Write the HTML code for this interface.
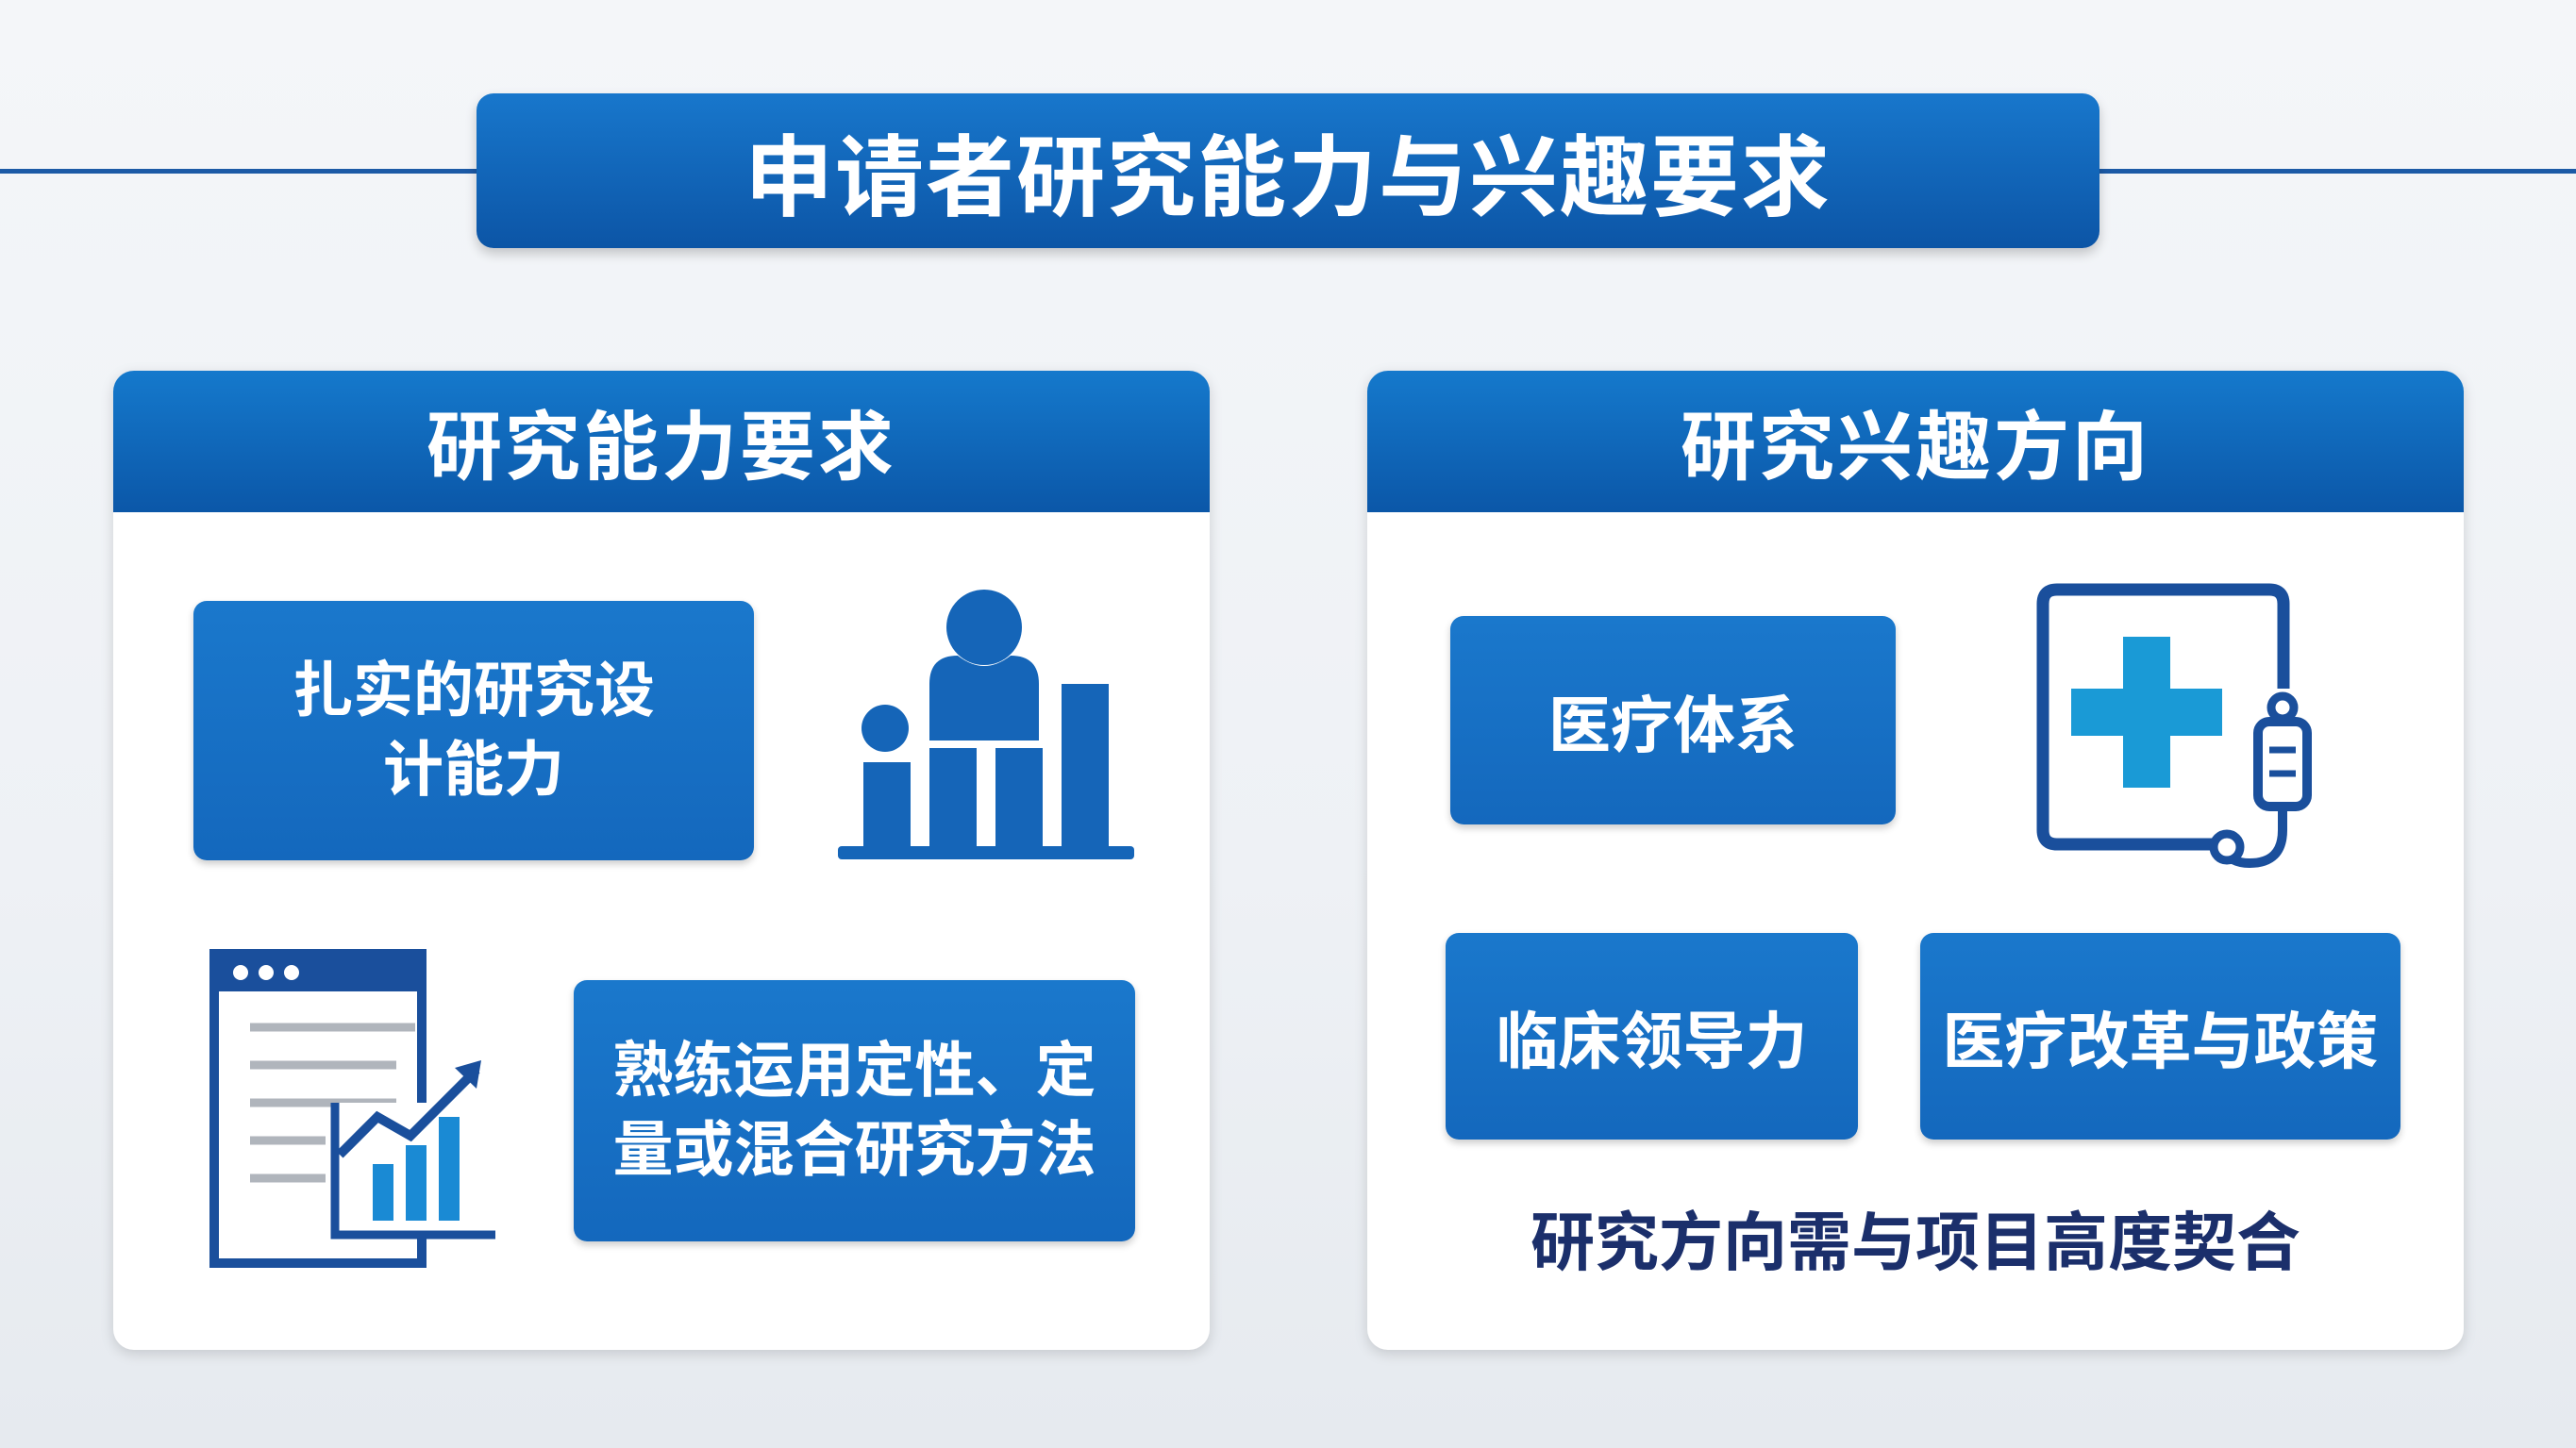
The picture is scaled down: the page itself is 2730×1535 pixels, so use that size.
<!DOCTYPE html>
<html><head><meta charset="utf-8"><style>
*{margin:0;padding:0;box-sizing:border-box}
body{width:2730px;height:1535px;position:relative;overflow:hidden;background:linear-gradient(180deg,#f4f6f9 0%,#eef1f5 60%,#e6eaef 100%);font-family:"Liberation Sans","Noto Sans CJK SC",sans-serif}
.abs{position:absolute}
.line{position:absolute;top:179px;height:5px;background:#1c5aa6}
.title{left:505px;top:99px;width:1720px;height:164px;border-radius:18px;background:linear-gradient(180deg,#1877cc,#0c55a6);color:#fff;font-size:94px;font-weight:bold;display:flex;align-items:center;justify-content:center;box-shadow:0 6px 12px rgba(0,0,0,.2);letter-spacing:2px}
.panel{top:393px;width:1162px;height:1038px;background:#fff;border-radius:22px;box-shadow:0 4px 14px rgba(0,0,0,.15);overflow:hidden}
.ph{height:150px;background:linear-gradient(180deg,#1579cc,#0b57a8);color:#fff;font-size:80px;font-weight:bold;display:flex;align-items:center;justify-content:center;letter-spacing:3px}
.box{background:linear-gradient(180deg,#1a78cc,#1468bd);border-radius:14px;color:#fff;font-weight:bold;display:flex;align-items:center;justify-content:center;text-align:center;box-shadow:0 4px 8px rgba(0,0,0,.2)}
</style></head><body>
<div class="line" style="left:0;width:505px"></div>
<div class="line" style="left:2225px;width:505px"></div>
<div class="abs title">申请者研究能力与兴趣要求</div>

<div class="abs panel" style="left:120px"><div class="ph">研究能力要求</div></div>
<div class="abs panel" style="left:1449px"><div class="ph">研究兴趣方向</div></div>

<div class="abs box" style="left:205px;top:637px;width:594px;height:275px;font-size:64px;line-height:1.3">扎实的研究设<br>计能力</div>
<div class="abs box" style="left:608px;top:1039px;width:595px;height:277px;font-size:64px;line-height:1.3">熟练运用定性、定<br>量或混合研究方法</div>

<svg class="abs" style="left:880px;top:615px" width="330" height="305" viewBox="0 0 330 305">
<g fill="#1565b8">
<circle cx="163" cy="50" r="40"/>
<path d="M105 170 v-60 q0-30 30-30 q28 22 56 0 q30 0 30 30 v60z"/>
<circle cx="58" cy="157" r="25"/>
<rect x="35" y="193" width="50" height="90"/>
<rect x="105" y="178" width="50" height="105"/>
<rect x="175" y="178" width="50" height="105"/>
<rect x="245" y="110" width="50" height="173"/>
<rect x="8" y="282" width="314" height="14" rx="4"/>
</g></svg>

<svg class="abs" style="left:220px;top:1004px" width="310" height="342" viewBox="0 0 310 342">
<rect x="7" y="7" width="220" height="328" fill="#fff" stroke="#1a4f9c" stroke-width="10"/>
<rect x="7" y="7" width="220" height="40" fill="#1a4f9c"/>
<circle cx="35" cy="27" r="8" fill="#fff"/><circle cx="62" cy="27" r="8" fill="#fff"/><circle cx="89" cy="27" r="8" fill="#fff"/>
<g stroke="#b0b5bc" stroke-width="9"><line x1="45" y1="85" x2="220" y2="85"/><line x1="45" y1="125" x2="200" y2="125"/><line x1="45" y1="165" x2="200" y2="165"/><line x1="45" y1="205" x2="125" y2="205"/><line x1="45" y1="245" x2="125" y2="245"/></g>
<rect x="135" y="165" width="150" height="140" fill="#fff"/>
<g fill="#1a8ad4"><rect x="175" y="230" width="22" height="60"/><rect x="210" y="210" width="22" height="80"/><rect x="245" y="180" width="22" height="110"/></g>
<polyline points="140,220 180,180 215,200 285,130" fill="none" stroke="#1a4f9c" stroke-width="10"/>
<polygon points="290,120 262,128 285,150" fill="#1a4f9c"/>
<path d="M135 165 V305 H305" fill="none" stroke="#1a4f9c" stroke-width="9"/>
</svg>

<div class="abs box" style="left:1537px;top:653px;width:472px;height:221px;font-size:66px">医疗体系</div>
<div class="abs box" style="left:1532px;top:989px;width:437px;height:219px;font-size:66px">临床领导力</div>
<div class="abs box" style="left:2035px;top:989px;width:509px;height:219px;font-size:66px">医疗改革与政策</div>

<svg class="abs" style="left:2155px;top:615px" width="310" height="315" viewBox="0 0 310 315">
<path d="M195 280 H25 q-15 0-15-15 V25 q0-15 15-15 H250 q15 0 15 15 V115" fill="none" stroke="#1a4f9c" stroke-width="13"/>
<path d="M95 60 h50 v55 h55 v50 h-55 v55 h-50 v-55 h-55 v-50 h55z" fill="#1a9ad6"/>
<rect x="238" y="150" width="52" height="90" rx="12" fill="#fff" stroke="#1a4f9c" stroke-width="10"/>
<circle cx="264" cy="135" r="12" fill="none" stroke="#1a4f9c" stroke-width="9"/>
<line x1="250" y1="180" x2="278" y2="180" stroke="#1a4f9c" stroke-width="7"/><line x1="250" y1="205" x2="278" y2="205" stroke="#1a4f9c" stroke-width="7"/>
<path d="M264 240 v25 q0 35-35 35 q-20 0-30-15" fill="none" stroke="#1a4f9c" stroke-width="10"/>
<circle cx="205" cy="283" r="14" fill="#fff" stroke="#1a4f9c" stroke-width="9"/>
</svg>

<div class="abs" style="left:1449px;top:1262px;width:1162px;text-align:center;font-size:68px;font-weight:bold;color:#1b2f6b">研究方向需与项目高度契合</div>
</body></html>
